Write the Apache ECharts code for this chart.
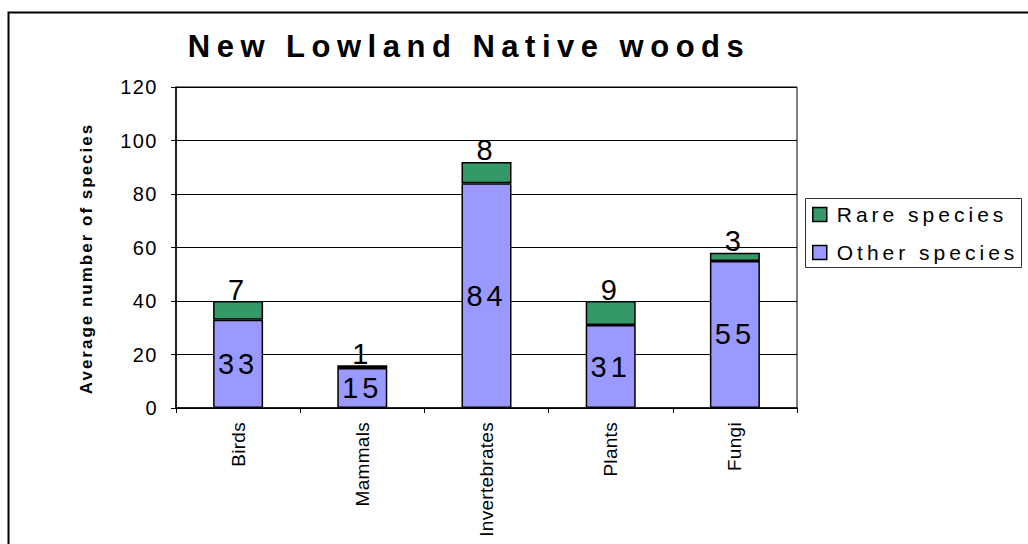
<!DOCTYPE html>
<html>
<head>
<meta charset="utf-8">
<script src="https://cdn.jsdelivr.net/npm/echarts@6/dist/echarts.min.js"></script>
<style>
html,body{margin:0;padding:0;background:#fff;}
#chart{width:1028px;height:544px;}
/* letter spacing, as in the reference rendering */
#chart text[style*="31px"]{letter-spacing:6.5px;}
#chart text[style*="21px"]{letter-spacing:4px;}
#chart text[style*="29px"]{letter-spacing:4px;}
#chart text[style*="20px"]{letter-spacing:1.5px;}
#chart text[style*="17px"]{letter-spacing:2px;}
#chart text[style*="19px"]{letter-spacing:0.3px;}
</style>
</head>
<body>
<div id="chart"></div>
<script>
const categories = ['Birds', 'Mammals', 'Invertebrates', 'Plants', 'Fungi'];
const otherSpecies = [33, 15, 84, 31, 55];
const rareSpecies = [7, 1, 8, 9, 3];
const yTicks = [0, 20, 40, 60, 80, 100, 120];

const FONT = '"Liberation Sans", Arial, sans-serif';
const chart = echarts.init(document.getElementById('chart'), null, {renderer: 'svg'});
chart.setOption({
  backgroundColor: '#fff',
  animation: false,
  graphic: [
    {
      type: 'rect', silent: true,
      shape: {x: 8.5, y: 12.5, width: 1100, height: 700},
      style: {fill: 'none', stroke: '#000', lineWidth: 2}
    },
    {
      type: 'rect', silent: true, z: -1,
      shape: {x: 805.5, y: 198.5, width: 216, height: 69},
      style: {fill: '#fff', stroke: '#333', lineWidth: 1}
    },
    {
      type: 'text', silent: true,
      x: 0, y: 0,
      style: {
        text: 'New Lowland Native woods', x: 469, y: 46,
        textAlign: 'center', textVerticalAlign: 'middle',
        font: 'bold 31px "Liberation Sans", Arial, sans-serif', fill: '#000'
      }
    }
  ],
  legend: {
    orient: 'vertical',
    left: 812, top: 204,
    padding: 0,
    itemGap: 17,
    itemWidth: 14, itemHeight: 14,
    data: ['Rare species', 'Other species'],
    itemStyle: {borderColor: '#000', borderWidth: 1.5},
    textStyle: {fontFamily: FONT, fontSize: 21, color: '#000', padding: [0, 0, 0, 5]},
    icon: 'rect'
  },
  grid: {left: 176, right: 231, top: 87, bottom: 136, show: true, borderColor: '#000', borderWidth: 1},
  xAxis: {
    type: 'category',
    data: categories,
    axisLine: {lineStyle: {color: '#000', width: 1.5}},
    axisTick: {show: true, length: 5, alignWithLabel: false, lineStyle: {color: '#000'}},
    axisLabel: {rotate: 90, margin: 14, fontFamily: FONT, fontSize: 19, color: '#000'}
  },
  yAxis: {
    type: 'value',
    min: yTicks[0], max: yTicks[yTicks.length - 1], interval: 20,
    name: 'Average number of species',
    nameLocation: 'middle', nameGap: 81, nameRotate: 90,
    nameTextStyle: {fontFamily: FONT, fontSize: 17, fontWeight: 'bold', color: '#000', padding: [0, 22, 0, 0]},
    axisLine: {show: true, lineStyle: {color: '#000', width: 1.5}},
    axisTick: {show: true, length: 5, lineStyle: {color: '#000'}},
    axisLabel: {margin: 18, fontFamily: FONT, fontSize: 20, color: '#000'},
    splitLine: {show: true, lineStyle: {color: '#000', width: 1}}
  },
  series: [
    {
      name: 'Other species', type: 'bar', stack: 'total',
      data: otherSpecies, barWidth: 50,
      itemStyle: {color: '#9999FF', borderColor: '#000', borderWidth: 1.5},
      label: {show: true, position: 'inside', fontFamily: FONT, fontSize: 29, color: '#000'}
    },
    {
      name: 'Rare species', type: 'bar', stack: 'total',
      data: rareSpecies, barWidth: 50,
      itemStyle: {color: '#339966', borderColor: '#000', borderWidth: 1.5},
      label: {show: true, position: 'top', distance: -3, fontFamily: FONT, fontSize: 29, color: '#000'}
    }
  ]
});
</script>
</body>
</html>
